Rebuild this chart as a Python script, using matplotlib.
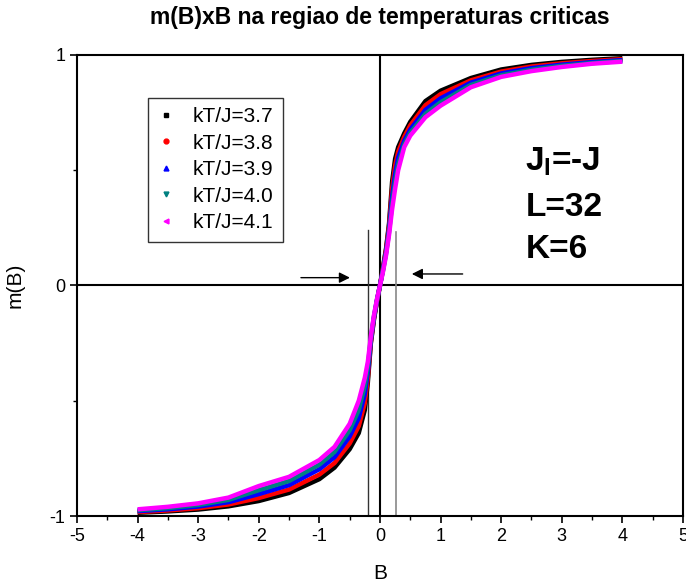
import numpy as np
import matplotlib
matplotlib.use("Agg")
import matplotlib.pyplot as plt
from matplotlib.lines import Line2D

plt.rcParams['font.family'] = ['Liberation Sans', 'DejaVu Sans']
plt.rcParams['mathtext.fontset'] = 'custom'
plt.rcParams['mathtext.bf'] = 'Liberation Sans:bold'
plt.rcParams['mathtext.rm'] = 'Liberation Sans'
plt.rcParams['axes.unicode_minus'] = False

# field values and magnetization curves for each temperature
B = [-4, -3.5, -3, -2.5, -2, -1.5, -1, -0.75, -0.5, -0.35, -0.25, -0.2, -0.15, -0.1, -0.05,
     0, 0.05, 0.1, 0.15, 0.2, 0.25, 0.3, 0.4, 0.5, 0.75, 1, 1.5, 2, 2.5, 3, 3.5, 4]
m_37 = [-0.986, -0.980, -0.972, -0.958, -0.935, -0.900, -0.840, -0.790, -0.710, -0.640, -0.540, -0.420,
        -0.250, -0.150, -0.070, 0.0, 0.080, 0.160, 0.270, 0.450, 0.550, 0.600, 0.660, 0.710, 0.800,
        0.845, 0.900, 0.937, 0.957, 0.970, 0.979, 0.986]
m_38 = [-0.983, -0.976, -0.966, -0.950, -0.922, -0.885, -0.820, -0.770, -0.685, -0.610, -0.510, -0.400,
        -0.245, -0.145, -0.068, 0.0, 0.075, 0.155, 0.260, 0.420, 0.520, 0.580, 0.645, 0.695, 0.782,
        0.830, 0.890, 0.928, 0.950, 0.964, 0.974, 0.982]
m_39 = [-0.979, -0.971, -0.959, -0.940, -0.905, -0.866, -0.797, -0.745, -0.655, -0.575, -0.470, -0.375,
        -0.237, -0.140, -0.065, 0.0, 0.070, 0.145, 0.245, 0.385, 0.485, 0.555, 0.627, 0.677, 0.762,
        0.812, 0.880, 0.920, 0.943, 0.958, 0.969, 0.978]
m_40 = [-0.975, -0.966, -0.952, -0.930, -0.888, -0.848, -0.777, -0.722, -0.628, -0.540, -0.435, -0.352,
        -0.228, -0.135, -0.062, 0.0, 0.065, 0.138, 0.232, 0.355, 0.450, 0.525, 0.612, 0.662, 0.745,
        0.795, 0.870, 0.912, 0.936, 0.953, 0.965, 0.974]
m_41 = [-0.971, -0.960, -0.945, -0.920, -0.870, -0.830, -0.757, -0.700, -0.600, -0.500, -0.400, -0.330,
        -0.220, -0.130, -0.060, 0.0, 0.060, 0.130, 0.220, 0.330, 0.420, 0.500, 0.600, 0.650, 0.730,
        0.780, 0.860, 0.905, 0.930, 0.948, 0.962, 0.971]

labels = ['kT/J=3.7', 'kT/J=3.8', 'kT/J=3.9', 'kT/J=4.0', 'kT/J=4.1']
series = [m_37, m_38, m_39, m_40, m_41]
colors = ['black', 'red', 'blue', '#008080', 'magenta']
markers = ['s', 'o', '^', 'v', '<']

fig = plt.figure(figsize=(6.86, 5.83), dpi=100)
ax = fig.add_axes([0.1122, 0.1149, 0.8834, 0.7908])

# zero axes
ax.axhline(0, color='black', lw=1.5, zorder=1)
ax.axvline(0, color='black', lw=1.5, zorder=1)

# guide lines and arrows around the transition
ax.plot([-0.2, -0.2], [-1, 0.24], color='#333333', lw=1.0, zorder=1)
ax.plot([0.27, 0.27], [-1, 0.233], color='#888888', lw=1.2, zorder=1)
ax.annotate('', xy=(-0.45, 0.034), xytext=(-1.35, 0.034),
            arrowprops=dict(arrowstyle='-|>', color='black', lw=1.0, mutation_scale=16))
ax.annotate('', xy=(0.48, 0.05), xytext=(1.41, 0.05),
            arrowprops=dict(arrowstyle='-|>', color='black', lw=1.0, mutation_scale=16))

for m, c in zip(series, colors):
    ax.plot(B, m, color=c, lw=3.2, solid_capstyle='butt', solid_joinstyle='round', zorder=2)

handles = [Line2D([], [], ls='none', marker=mk, color=c, markersize=3.5) for mk, c in zip(markers, colors)]
leg = ax.legend(handles, labels, loc='upper left', bbox_to_anchor=(0.117, 0.907), borderaxespad=0,
                fontsize=15, frameon=True, fancybox=False, edgecolor='black', handlelength=0.8,
                handletextpad=0.9, borderpad=0.45, labelspacing=0.36)
leg.get_frame().set_linewidth(1.0)

ax.text(2.4, 0.50, r'$\mathbf{J_{I}}$=-J', fontsize=24, fontweight='bold', va='baseline')
ax.text(2.4, 0.30, 'L=32', fontsize=24, fontweight='bold', va='baseline')
ax.text(2.4, 0.12, 'K=6', fontsize=24, fontweight='bold', va='baseline')

ax.set_xlim(-5, 5)
ax.set_ylim(-1, 1)
ax.set_xticks(np.arange(-5, 6, 1))
ax.set_xticks(np.arange(-4.5, 5, 1), minor=True)
ax.set_yticks([-1, 0, 1])
ax.set_yticklabels(['-1', '0', '1'])
ax.set_yticks([-0.5, 0.5], minor=True)
ax.tick_params(which='major', direction='out', length=5, width=1.2, labelsize=13)
ax.tick_params(which='minor', direction='out', length=3, width=1.0)
for s in ax.spines.values():
    s.set_linewidth(1.5)

ax.set_xlabel('B', fontsize=15, labelpad=14)
ax.set_ylabel('m(B)', fontsize=15, labelpad=18)
ax.set_title('m(B)xB na regiao de temperaturas criticas', fontsize=16.5, fontweight='bold', pad=22)

fig.savefig('out.png', dpi=100)
